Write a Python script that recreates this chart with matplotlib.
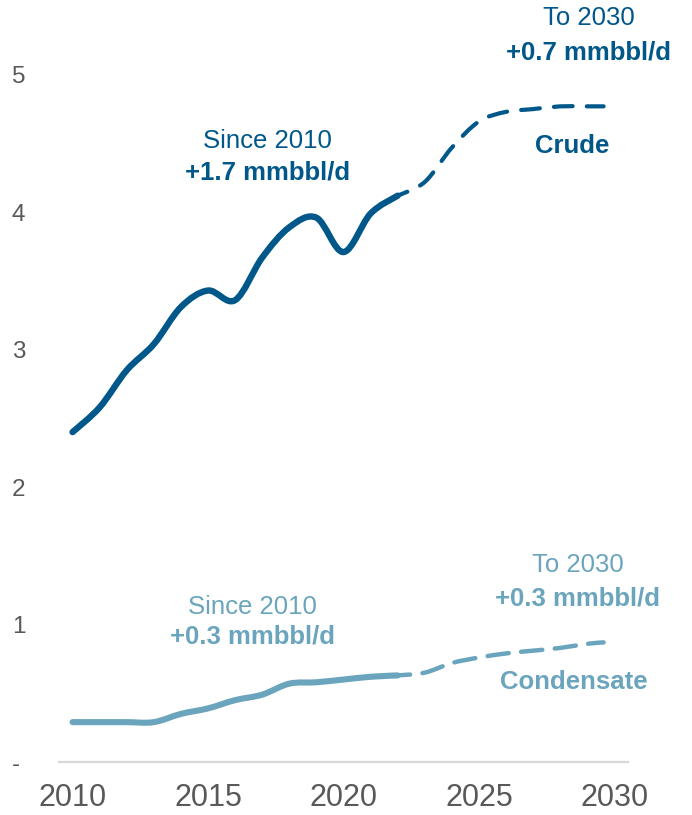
import numpy as np
import matplotlib
matplotlib.use("Agg")
import matplotlib.pyplot as plt
from matplotlib.path import Path
from matplotlib.patches import PathPatch

plt.rcParams['font.family'] = ['Liberation Sans', 'DejaVu Sans']

# historic data (mmbbl/d)
hist_years = [2010, 2011, 2012, 2013, 2014, 2015, 2016, 2017, 2018, 2019, 2020, 2021, 2022]
crude_hist = [2.40, 2.58, 2.85, 3.04, 3.31, 3.43, 3.36, 3.67, 3.89, 3.96, 3.71, 3.99, 4.12]
cond_hist = [0.29, 0.29, 0.29, 0.29, 0.35, 0.39, 0.45, 0.49, 0.57, 0.58, 0.60, 0.62, 0.63]

# outlook
fc_years = [2022, 2023, 2024, 2025, 2026, 2027, 2028, 2029, 2029.6]
crude_fc = [4.12, 4.22, 4.47, 4.66, 4.73, 4.75, 4.77, 4.77, 4.77]
cond_fc = [0.63, 0.65, 0.72, 0.76, 0.79, 0.81, 0.83, 0.86, 0.87]

x_ticks = [2010, 2015, 2020, 2025, 2030]
y_ticks = [0, 1, 2, 3, 4, 5]
y_tick_labels = ['-', '1', '2', '3', '4', '5']

CRUDE = '#00578a'
COND = '#6aa5bd'
GREY = '#595959'


def smooth_path(xs, ys):
    # excel style smoothed line -> cubic bezier segments
    p = np.column_stack([xs, ys]).astype(float)
    n = len(p)
    verts = [p[0]]
    codes = [Path.MOVETO]
    for i in range(n - 1):
        p0 = p[i - 1] if i > 0 else p[i]
        p3 = p[i + 2] if i + 2 < n else p[i + 1]
        c1 = p[i] + (p[i + 1] - p0) / 6
        c2 = p[i + 1] - (p3 - p[i]) / 6
        verts += [c1, c2, p[i + 1]]
        codes += [Path.CURVE4] * 3
    return Path(verts, codes)


fig = plt.figure(figsize=(6.92, 8.15), dpi=100)
ax = fig.add_axes([59 / 692, 53 / 815, 569 / 692, 756 / 815])
ax.set_xlim(2009.5, 2030.5)
ax.set_ylim(0, 5.5)

ax.add_patch(PathPatch(smooth_path(hist_years, crude_hist), fill=False, color=CRUDE,
                       lw=4.6, capstyle='round', joinstyle='round'))
ax.add_patch(PathPatch(smooth_path(fc_years, crude_fc), fill=False, color=CRUDE,
                       lw=3.0, linestyle=(2, (4.5, 3.4)), capstyle='round'))
ax.add_patch(PathPatch(smooth_path(hist_years, cond_hist), fill=False, color=COND,
                       lw=4.4, capstyle='round', joinstyle='round'))
ax.add_patch(PathPatch(smooth_path(fc_years, cond_fc), fill=False, color=COND,
                       lw=3.2, linestyle=(2, (4.8, 2.8)), capstyle='round'))

# annotations
fs = 18.5
ax.text(2017.2, 4.52, 'Since 2010', color=CRUDE, fontsize=fs, ha='center', va='center')
ax.text(2017.2, 4.29, '+1.7 mmbbl/d', color=CRUDE, fontsize=fs, ha='center', va='center', fontweight='bold')
ax.text(2029.05, 5.41, 'To 2030', color=CRUDE, fontsize=fs, ha='center', va='center')
ax.text(2029.05, 5.16, '+0.7 mmbbl/d', color=CRUDE, fontsize=fs, ha='center', va='center', fontweight='bold')
ax.text(2028.45, 4.48, 'Crude', color=CRUDE, fontsize=fs, ha='center', va='center', fontweight='bold')

ax.text(2016.65, 1.13, 'Since 2010', color=COND, fontsize=fs, ha='center', va='center')
ax.text(2016.65, 0.91, '+0.3 mmbbl/d', color=COND, fontsize=fs, ha='center', va='center', fontweight='bold')
ax.text(2028.65, 1.43, 'To 2030', color=COND, fontsize=fs, ha='center', va='center')
ax.text(2028.65, 1.19, '+0.3 mmbbl/d', color=COND, fontsize=fs, ha='center', va='center', fontweight='bold')
ax.text(2028.5, 0.58, 'Condensate', color=COND, fontsize=fs, ha='center', va='center', fontweight='bold')

# axes styling
for s in ['top', 'right', 'left']:
    ax.spines[s].set_visible(False)
ax.spines['bottom'].set_color('#d9d9d9')
ax.spines['bottom'].set_linewidth(1.6)

ax.set_xticks(x_ticks)
ax.set_xticklabels([str(t) for t in x_ticks])
ax.set_yticks(y_ticks)
ax.set_yticklabels(y_tick_labels)
ax.tick_params(axis='x', length=0, pad=15, labelsize=22, labelcolor=GREY)
ax.tick_params(axis='y', length=0, pad=34, labelsize=17.5, labelcolor=GREY)
for lab in ax.get_yticklabels():
    lab.set_horizontalalignment('left')

fig.savefig('out.png', dpi=100)
